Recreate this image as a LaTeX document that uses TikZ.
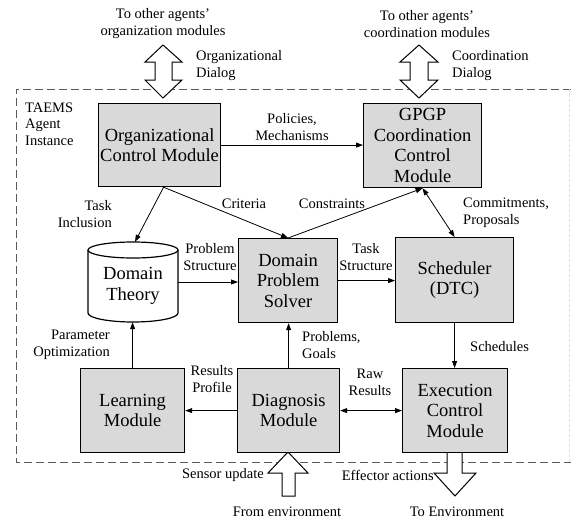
\documentclass[tikz,border=0pt]{standalone}
\usepackage{fontspec}
\setmainfont{Liberation Serif}
\usetikzlibrary{arrows.meta,calc}
\begin{document}
\begin{tikzpicture}[x=1pt,y=-1pt,
  mod/.style={draw, line width=1.2pt, fill=gray!30, font=\fontsize{18.5}{20.5}\selectfont, align=center, inner sep=0pt, anchor=north west},
  modtext/.style={font=\fontsize{18.5}{21.5}\selectfont, align=center, inner sep=0pt},
  lbl/.style={font=\fontsize{14.5}{17}\selectfont, align=center, inner sep=0pt},
  arr/.style={-{Triangle[length=7pt,width=5pt]}, line width=0.8pt},
  arrtwo/.style={{Triangle[length=7pt,width=5pt]}-{Triangle[length=7pt,width=5pt]}, line width=0.8pt},
  hollow/.style={draw, fill=white, line width=1pt, line join=miter},
  frame/.style={draw=black!65, line width=1pt, dash pattern=on 8pt off 4pt}
]
\useasboundingbox (0,0) rectangle (571,520);

% dashed agent frame
\draw[frame] (571,89) -- (16,89) -- (16,462) -- (571,462);
\draw[gray!25, line width=0.6pt, dash pattern=on 3pt off 2pt] (569,89) -- (569,462);

% hollow arrows
\draw[hollow] (163,45) -- (182,62) -- (172,62) -- (172,80) -- (182,80) -- (163,98) -- (145,80) -- (155,80) -- (155,62) -- (145,62) -- cycle;
\draw[hollow] (419,45) -- (438,62) -- (428,62) -- (428,80) -- (438,80) -- (419,98) -- (400,80) -- (410,80) -- (410,62) -- (400,62) -- cycle;
\draw[hollow] (288,452) -- (308,473) -- (295,473) -- (295,496) -- (282,496) -- (282,473) -- (268,473) -- cycle;
\draw[hollow] (447,452) -- (462,452) -- (462,473) -- (476,473) -- (455,496) -- (434,473) -- (447,473) -- cycle;

% modules
\node[mod, minimum width=122pt, minimum height=83pt] (org) at (98,103) {Organizational\\Control Module};
\node[mod, minimum width=118pt, minimum height=84pt] (gpgp) at (363,103) {GPGP\\Coordination\\Control\\Module};
\node[mod, minimum width=99pt, minimum height=84pt] (dps) at (238,238) {Domain\\Problem\\Solver};
\node[mod, minimum width=118pt, minimum height=85pt] (sched) at (395,237) {Scheduler\\(DTC)};
\node[mod, minimum width=104pt, minimum height=84pt] (learn) at (80,368) {Learning\\Module};
\node[mod, minimum width=102pt, minimum height=84pt] (diag) at (237,368) {Diagnosis\\Module};
\node[mod, minimum width=105pt, minimum height=84pt] (exec) at (402,368) {Execution\\Control\\Module};

% domain theory cylinder
\draw[fill=white, line width=1.2pt] (88,250) -- (88,313) arc[start angle=180, end angle=360, x radius=45pt, y radius=9pt] -- (178,250) arc[start angle=0, end angle=180, x radius=45pt, y radius=8pt] -- cycle;
\draw[line width=1.2pt] (88,250) arc[start angle=180, end angle=360, x radius=45pt, y radius=8pt];
\node[inner sep=0pt, minimum width=90pt, minimum height=80pt] (dt) at (133,282) {};
\node[modtext] (dtt) at (133,286) {Domain\\Theory};

% labels
\node[lbl] (tol) at (163,24) {To other agents’\\organization modules};
\node[lbl, align=left, anchor=west] (odl) at (196,66) {Organizational\\Dialog};
\node[lbl] (toc) at (427,24) {To other agents’\\coordination modules};
\node[lbl, align=left, anchor=west] (cdl) at (452,66) {Coordination\\Dialog};
\node[lbl, align=left, anchor=west, font=\fontsize{14.5}{16.5}\selectfont] (taems) at (25,124) {TAEMS\\Agent\\Instance};
\node[lbl] (pol) at (292,127) {Policies,\\Mechanisms};
\node[lbl, align=right, anchor=east] (ti) at (112,214) {Task\\Inclusion};
\node[lbl] (crit) at (244,204) {Criteria};
\node[lbl] (cons) at (332,204) {Constraints};
\node[lbl, align=left, anchor=west] (comm) at (463,213) {Commitments,\\Proposals};
\node[lbl] (ps) at (210,257) {Problem\\Structure};
\node[lbl] (ts) at (366,257) {Task\\Structure};
\node[lbl, align=right, anchor=east] (po) at (110,345) {Parameter\\Optimization};
\node[lbl, align=left, anchor=west] (pg) at (302,345) {Problems,\\Goals};
\node[lbl] (rp) at (212,379) {Results\\Profile};
\node[lbl] (rr) at (370,382) {Raw\\Results};
\node[lbl, anchor=west] (schl) at (470,347) {Schedules};
\node[lbl, anchor=east] (su) at (264,475) {Sensor update};
\node[lbl, anchor=east] (ea) at (434,475) {Effector actions};
\node[lbl] (fe) at (287,512) {From environment};
\node[lbl] (te) at (457,512) {To Environment};

% connectors
\draw[arr] (org.east) -- (org.east -| gpgp.west);
\draw[arr] ([xshift=4pt]org.south) -- ([xshift=2pt]dt.north);
\draw[arr] ([xshift=4pt]org.south) -- (dps.north);
\draw[arr] (dps.north) -- (gpgp.south);
\draw[arrtwo] (gpgp.south) -- (sched.north);
\draw[arr] (dt.east) -- (dt.east -| dps.west);
\draw[arr] (dps.east) -- (dps.east -| sched.west);
\draw[arr] (learn.north) -- (learn.north |- dt.south);
\draw[arr] (diag.north) -- (diag.north |- dps.south);
\draw[arr] (diag.west) -- (learn.east);
\draw[arrtwo] (diag.east) -- (exec.west);
\draw[arr] (sched.south) -- (sched.south |- exec.north);
\end{tikzpicture}
\end{document}
